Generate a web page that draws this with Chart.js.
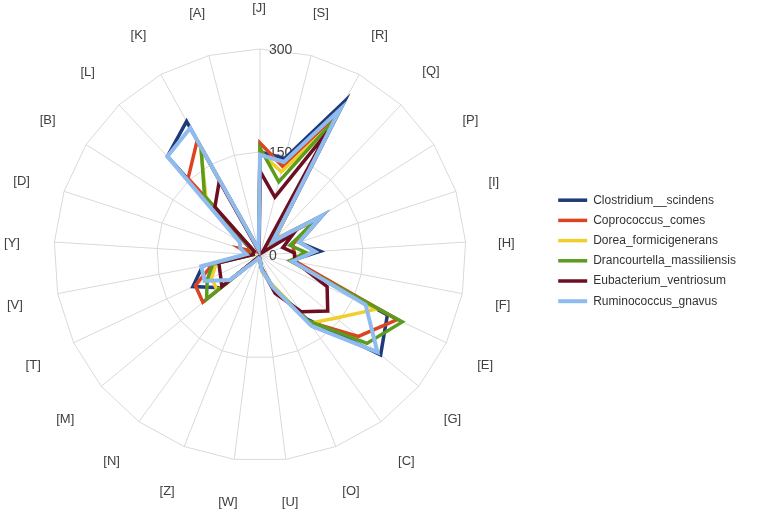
<!DOCTYPE html>
<html>
<head>
<meta charset="utf-8">
<script src="https://cdn.jsdelivr.net/npm/chart.js@4.4.0/dist/chart.umd.min.js"></script>
<style>
  html, body { margin: 0; padding: 0; background: #fff; }
  #wrap { width: 761px; height: 515px; }
</style>
</head>
<body>
<div id="wrap"><canvas id="radar" width="761" height="515"></canvas></div>
<script>
// categories, clockwise from the top
const categories = ['[J]', '[S]', '[R]', '[Q]', '[P]', '[I]', '[H]', '[F]', '[E]', '[G]', '[C]', '[O]', '[U]',
                    '[W]', '[Z]', '[N]', '[M]', '[T]', '[V]', '[Y]', '[D]', '[B]', '[L]', '[K]', '[A]'];

const tickValues = [0, 150, 300];

// values
const clostridium   = [150, 145, 255, 30, 108, 60, 88, 45, 205, 228, 115, 50, 20, 5, 3, 5, 75, 108, 85, 12, 15, 15, 197, 222, 8];
const coprococcus   = [163, 133, 235, 25, 95, 50, 50, 54, 221, 186, 120, 50, 20, 5, 3, 5, 108, 104, 70, 15, 30, 10, 153, 190, 8];
const dorea         = [150, 125, 218, 30, 100, 60, 80, 45, 186, 144, 123, 45, 25, 5, 3, 5, 81, 78, 65, 10, 12, 12, 115, 180, 6];
const drancourtella = [156, 110, 224, 25, 100, 46, 66, 45, 229, 202, 118, 50, 20, 5, 3, 5, 101, 85, 70, 10, 12, 12, 118, 178, 6];
const eubacterium   = [122, 87, 205, 5, 57, 35, 50, 52, 108, 128, 102, 60, 20, 5, 3, 5, 72, 64, 61, 10, 10, 10, 96, 123, 5];
const ruminococcus  = [146, 140, 242, 27, 107, 60, 80, 48, 170, 222, 128, 50, 22, 5, 5, 10, 57, 89, 87, 20, 30, 35, 197, 211, 8];

const series = [
  { name: 'Clostridium__scindens', values: clostridium, color: '#1f3a78' },
  { name: 'Coprococcus_comes', values: coprococcus, color: '#dc4321' },
  { name: 'Dorea_formicigenerans', values: dorea, color: '#f0cf2c' },
  { name: 'Drancourtella_massiliensis', values: drancourtella, color: '#5b9b1d' },
  { name: 'Eubacterium_ventriosum', values: eubacterium, color: '#6c0f22' },
  { name: 'Ruminococcus_gnavus', values: ruminococcus, color: '#8fbbef' },
];

const FONT = '"Liberation Sans", Arial, sans-serif';

// tick labels sit to the right of the vertical axis
const tickText = {
  id: 'tickText',
  beforeDatasetsDraw(chart) {
    const r = chart.scales.r;
    const ctx = chart.ctx;
    ctx.save();
    ctx.font = '14px ' + FONT;
    ctx.fillStyle = '#404040';
    ctx.textAlign = 'left';
    ctx.textBaseline = 'middle';
    tickValues.forEach(v => {
      const d = r.getDistanceFromCenterForValue(v);
      ctx.fillText(String(v), r.xCenter + 9, r.yCenter - d + 1);
    });
    ctx.restore();
  }
};

// category labels: each text box pushed just outside the outer ring
const pointText = {
  id: 'pointText',
  beforeDatasetsDraw(chart) {
    const r = chart.scales.r;
    const ctx = chart.ctx;
    ctx.save();
    ctx.font = '13px ' + FONT;
    ctx.fillStyle = '#404040';
    ctx.textAlign = 'center';
    ctx.textBaseline = 'middle';
    categories.forEach((lab, i) => {
      const a = r.getIndexAngle(i);
      const c = Math.cos(a);
      const w = ctx.measureText(lab).width;
      const d = r.drawingArea + 32 + Math.abs(c) * 9 + Math.abs(Math.sin(a)) * (w / 2 + 1);
      const p = r.getPointPosition(i, d);
      const dy = c > 0.35 ? 0 : (c < -0.97 ? 1 : 4);
      ctx.fillText(lab, p.x - 1, p.y + dy);
    });
    ctx.restore();
  }
};

// put the legend block to the right of the plot
const legendPlace = {
  id: 'legendPlace',
  afterLayout(chart) {
    const lg = chart.legend;
    lg.left = 550; lg.right = 550 + lg.width;
    lg.top = 186; lg.bottom = 186 + lg.height;
  }
};

new Chart(document.getElementById('radar').getContext('2d'), {
  type: 'radar',
  data: {
    labels: categories,
    datasets: series.map((s, i) => ({
      label: s.name,
      data: s.values,
      borderColor: s.color,
      backgroundColor: s.color,
      borderWidth: i === series.length - 1 ? 4 : 3.5,
      fill: false,
      pointRadius: 0,
      pointHoverRadius: 0,
      tension: 0,
      order: series.length - i, // later series drawn on top
    })),
  },
  options: {
    responsive: false,
    animation: false,
    devicePixelRatio: 1,
    layout: { padding: { top: 49, bottom: 54, left: 54, right: 295 } },
    plugins: {
      legend: {
        position: 'chartArea',
        align: 'start',
        labels: {
          usePointStyle: true,
          pointStyle: 'line',
          pointStyleWidth: 29,
          padding: 8.2,
          color: '#333',
          font: { family: FONT, size: 12 },
          sort: (a, b) => a.datasetIndex - b.datasetIndex,
        },
      },
      tooltip: { enabled: false },
    },
    scales: {
      r: {
        min: 0,
        max: 300,
        ticks: { stepSize: 150, display: false },
        grid: { color: '#d9d9d9', lineWidth: 1 },
        angleLines: { color: '#d9d9d9', lineWidth: 1 },
        pointLabels: { display: false },
      },
    },
  },
  plugins: [tickText, pointText, legendPlace],
});
</script>
</body>
</html>
